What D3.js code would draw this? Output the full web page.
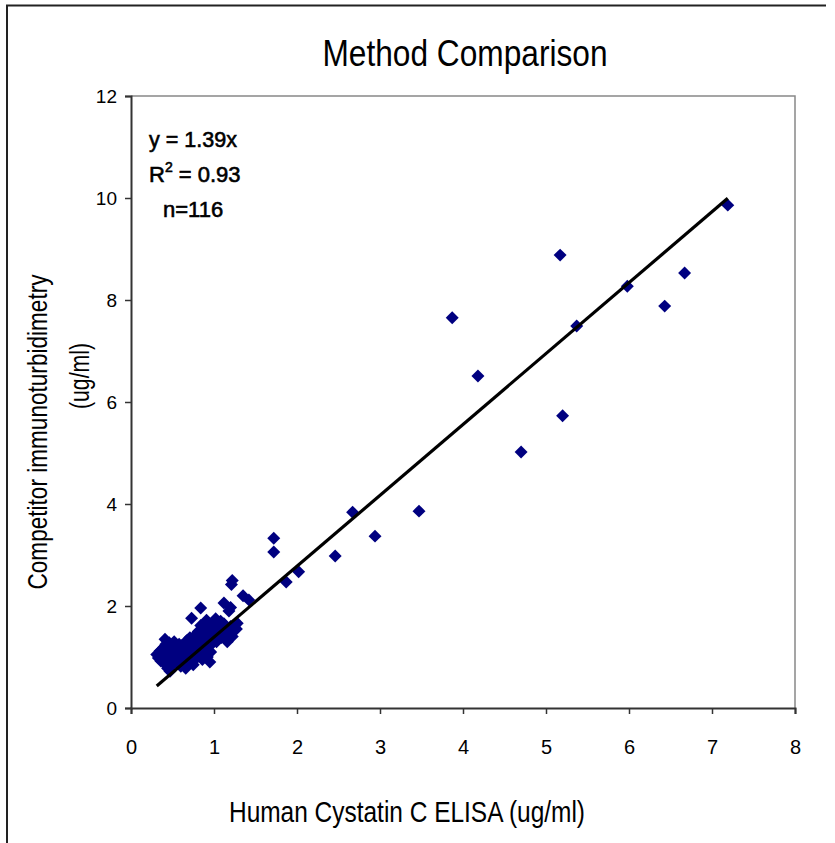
<!DOCTYPE html>
<html><head><meta charset="utf-8">
<script src="https://cdn.jsdelivr.net/npm/d3@7"></script>
<style>body{margin:0;background:#fff}svg{display:block}</style>
</head><body>
<script>
const xTicks = [0,1,2,3,4,5,6,7,8];
const yTicks = [0,2,4,6,8,10,12];
const elisa = [7.19,5.17,5.98,6.67,6.43,5.37,3.87,4.18,5.2,4.7,3.47,2.94,2.67,2.46,2.02,1.87,1.72,1.72,1.35,1.42,1.22,1.21,1.2,1.12,1.28,0.84,0.73,1.18,0.95,0.6,
0.31,0.33,0.35,0.36,0.38,0.39,0.40,0.41,0.42,0.40,
0.43,0.44,0.45,0.46,0.47,0.48,0.49,0.50,0.50,0.47,
0.52,0.53,0.54,0.55,0.56,0.57,0.58,0.59,0.60,0.55,
0.61,0.62,0.63,0.64,0.65,0.66,0.67,0.68,0.69,0.70,
0.71,0.72,0.73,0.74,0.75,0.76,0.77,0.78,0.79,0.80,
0.81,0.82,0.83,0.84,0.85,0.86,0.87,0.88,0.89,0.90,
0.91,0.92,0.93,0.94,0.95,0.96,0.97,0.98,0.99,1.00,
1.01,1.02,1.03,1.05,1.06,1.08,1.09,1.10,
1.12,1.14,1.16,1.17,1.20,1.22,1.25,1.27];
const competitor = [9.86,8.88,8.27,8.53,7.88,7.49,7.65,6.51,5.73,5.02,3.86,3.37,3.84,2.98,2.67,2.47,3.33,3.06,2.2,2.12,2.5,2.42,1.97,2.06,1.66,1.96,1.76,1.9,0.9,0.82,
1.05,0.98,1.12,0.92,1.02,1.18,0.88,1.35,1.25,1.08,
1.0,0.78,1.15,1.28,0.95,1.05,1.22,0.85,1.12,0.72,
1.3,0.98,1.08,1.18,0.9,1.02,1.25,0.95,1.1,1.0,
1.22,0.88,1.05,1.15,0.98,0.78,1.32,1.08,1.2,0.92,
1.38,1.02,1.15,1.25,0.85,1.1,1.42,1.3,0.98,1.2,
1.5,1.05,1.35,1.62,1.25,0.95,1.45,1.15,1.55,1.32,
1.72,1.0,1.42,1.2,1.6,1.1,1.5,1.28,1.68,1.4,
1.55,1.75,1.3,1.62,1.45,1.7,1.38,1.55,
1.65,1.42,1.3,1.52,1.6,1.4,1.62,1.55];
const slope = 1.39;
const fitRange = [0.31, 7.19];
const stats = ["y = 1.39x", "R", " = 0.93", "n=116"];

const W = 835, H = 843;
const svg = d3.select("body").append("svg").attr("width", W).attr("height", H);
const NARROW = "'Liberation Sans Narrow','Arial Narrow','Liberation Sans',Arial,sans-serif";
const SANS = "'Liberation Sans',Arial,sans-serif";

// outer frame
svg.append("path").attr("d", "M7,843 V5.5 H826").attr("fill", "none").attr("stroke", "#222").attr("stroke-width", 2);

const L = 131, R = 795, T = 96, B = 708;
const x = d3.scaleLinear().domain([0, 8]).range([L, R]);
const y = d3.scaleLinear().domain([0, 12]).range([B, T]);

// plot frame top/right
svg.append("path").attr("d", `M${L},${T} H${R} V${B}`).attr("fill", "none").attr("stroke", "#888").attr("stroke-width", 1.5);

const xAxis = svg.append("g").attr("transform", `translate(0,${B})`)
  .call(d3.axisBottom(x).tickValues(xTicks).tickSize(6).tickPadding(26).tickFormat(d3.format("d")));
const yAxis = svg.append("g").attr("transform", `translate(${L},0)`)
  .call(d3.axisLeft(y).tickValues(yTicks).tickSize(6).tickPadding(8).tickFormat(d3.format("d")));
[xAxis, yAxis].forEach(g => {
  g.select(".domain").attr("stroke", "#333").attr("stroke-width", 2);
  g.selectAll(".tick line").attr("stroke", "#333").attr("stroke-width", 1.5);
  g.selectAll("text").attr("font-family", NARROW).attr("font-size", 20).attr("fill", "#000");
});
yAxis.selectAll("text").attr("font-family", SANS).attr("font-size", 19);

// points
const pts = elisa.map((v, i) => [v, competitor[i]]);
const sym = d3.symbol().type(d3.symbolSquare).size(84);
svg.append("g").selectAll("path").data(pts).join("path")
  .attr("d", sym)
  .attr("transform", d => `translate(${x(d[0])},${y(d[1])}) rotate(45)`)
  .attr("fill", "#000080");

// fit line
svg.append("line")
  .attr("x1", x(fitRange[0])).attr("y1", y(slope * fitRange[0]))
  .attr("x2", x(fitRange[1])).attr("y2", y(slope * fitRange[1]))
  .attr("stroke", "#000").attr("stroke-width", 3.2);

// stats text
const st = svg.append("g").attr("font-family", SANS).attr("font-size", 22).attr("fill", "#000")
  .attr("stroke", "#000").attr("stroke-width", 0.6);
st.append("text").attr("x", 149).attr("y", 147).attr("textLength", 88).attr("lengthAdjust", "spacingAndGlyphs").text(stats[0]);
const r2 = st.append("text").attr("x", 149).attr("y", 182);
r2.append("tspan").text(stats[1]);
r2.append("tspan").attr("font-size", 14).attr("dy", -10).text("2");
r2.append("tspan").attr("dy", 10).text(stats[2]);
st.append("text").attr("x", 163).attr("y", 217).text(stats[3]);

// title & labels
svg.append("text").attr("x", 465).attr("y", 66).attr("text-anchor", "middle")
  .attr("font-family", NARROW).attr("font-size", 36).attr("textLength", 285).attr("lengthAdjust", "spacingAndGlyphs")
  .text("Method Comparison");
svg.append("text").attr("x", 407).attr("y", 822).attr("text-anchor", "middle")
  .attr("font-family", NARROW).attr("font-size", 30).attr("textLength", 356).attr("lengthAdjust", "spacingAndGlyphs")
  .text("Human Cystatin C ELISA (ug/ml)");
svg.append("text").attr("transform", "translate(47,432) rotate(-90)").attr("text-anchor", "middle")
  .attr("font-family", NARROW).attr("font-size", 28).attr("textLength", 315).attr("lengthAdjust", "spacingAndGlyphs")
  .text("Competitor immunoturbidimetry");
svg.append("text").attr("transform", "translate(89,376) rotate(-90)").attr("text-anchor", "middle")
  .attr("font-family", NARROW).attr("font-size", 28).attr("textLength", 66).attr("lengthAdjust", "spacingAndGlyphs")
  .text("(ug/ml)");
</script>
</body></html>
